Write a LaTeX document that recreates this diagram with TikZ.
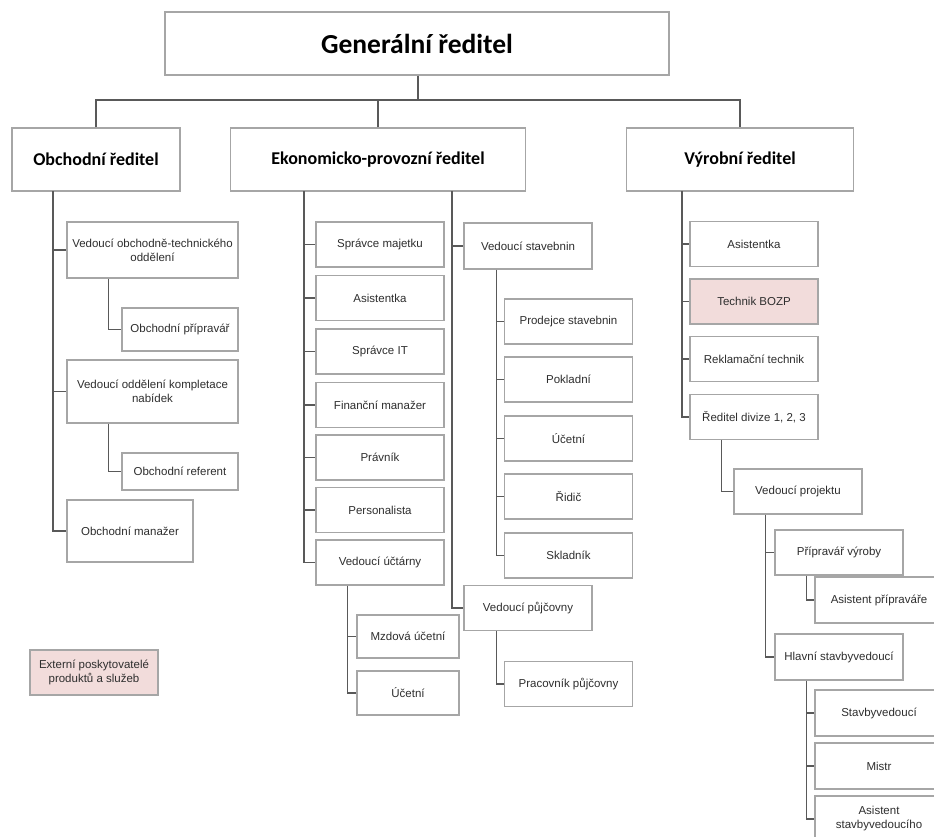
\documentclass[tikz,border=0pt]{standalone}
\usepackage{fontspec}
\setmainfont{Liberation Sans}
\newfontfamily\headfont{Carlito}
\definecolor{boxline}{HTML}{A6A6A6}
\definecolor{linkline}{HTML}{595959}
\definecolor{pinkfill}{HTML}{F2DCDB}
\begin{document}
\begin{tikzpicture}[x=1pt,y=-1pt,
  box/.style={draw=boxline,line width=1.4pt,fill=white,align=center,inner sep=2pt,text=black!82,
    minimum width=128pt,minimum height=45pt,font=\fontsize{11.5}{14}\selectfont},
  head/.style={box,minimum height=63pt,text=black,font=\headfont\bfseries\fontsize{18}{22}\selectfont},
  pinkbox/.style={box,fill=pinkfill},
  link/.style={draw=linkline,line width=1.3pt}]
\clip (0,0) rectangle (934,836);
\node[head,minimum width=504pt,font=\headfont\bfseries\fontsize{27.5}{32}\selectfont] (gen) at (417,43.5) {Generální ředitel};
\node[head,minimum width=168pt] (obch) at (96,159.5) {Obchodní ředitel};
\node[head,minimum width=295pt] (ekon) at (378,159.5) {Ekonomicko-provozní ředitel};
\node[head,minimum width=227pt] (vyr) at (740,159.5) {Výrobní ředitel};
\node[box,minimum width=171pt,minimum height=56pt] (vot) at (152.5,250) {Vedoucí obchodně-technického\\oddělení};
\node[box,minimum width=116pt,minimum height=43pt] (pripr) at (180,329.5) {Obchodní přípravář};
\node[box,minimum width=171pt,minimum height=63pt] (vok) at (152.5,391.5) {Vedoucí oddělení kompletace\\nabídek};
\node[box,minimum width=116pt,minimum height=37pt] (refer) at (180,471.5) {Obchodní referent};
\node[box,minimum width=126pt,minimum height=62pt] (man) at (130,531) {Obchodní manažer};
\node[pinkbox] (ext) at (94,672.5) {Externí poskytovatelé\\produktů a služeb};
\node[box] (majet) at (380,244.5) {Správce majetku};
\node[box] (asi) at (380,298) {Asistentka};
\node[box] (it) at (380,351.5) {Správce IT};
\node[box] (fin) at (380,405) {Finanční manažer};
\node[box] (prav) at (380,457.5) {Právník};
\node[box] (pers) at (380,510) {Personalista};
\node[box] (ucty) at (380,562.5) {Vedoucí účtárny};
\node[box,minimum width=102pt,minimum height=43pt] (mzd) at (408,636.5) {Mzdová účetní};
\node[box,minimum width=102pt,minimum height=44pt] (ucA) at (408,693) {Účetní};
\node[box,minimum height=46pt] (stav) at (528,246) {Vedoucí stavebnin};
\node[box] (prod) at (568.5,321.5) {Prodejce stavebnin};
\node[box] (pokl) at (568.5,379.5) {Pokladní};
\node[box] (ucB) at (568.5,438.5) {Účetní};
\node[box] (ridic) at (568.5,496.5) {Řidič};
\node[box] (sklad) at (568.5,555.5) {Skladník};
\node[box] (pujc) at (528,608) {Vedoucí půjčovny};
\node[box] (prac) at (568.5,684) {Pracovník půjčovny};
\node[box] (asiB) at (754,244) {Asistentka};
\node[pinkbox] (bozp) at (754,301.5) {Technik BOZP};
\node[box] (rekl) at (754,359) {Reklamační technik};
\node[box] (redd) at (754,417) {Ředitel divize 1, 2, 3};
\node[box] (vproj) at (798,491.5) {Vedoucí projektu};
\node[box] (pvyr) at (839,552.5) {Přípravář výroby};
\node[box,minimum height=46pt] (aspr) at (879,600) {Asistent přípraváře};
\node[box,minimum height=46pt] (hlav) at (839,657) {Hlavní stavbyvedoucí};
\node[box,minimum height=46pt] (stavb) at (879,713) {Stavbyvedoucí};
\node[box,minimum height=46pt] (mistr) at (879,766) {Mistr};
\node[box,minimum height=46pt] (asst) at (879,819) {Asistent\\stavbyvedoucího};
\coordinate (bus) at (418,100);
\draw[link] (gen.south -| bus) -- (bus);
\draw[link] (obch.north) |- (bus) -| (vyr.north);
\draw[link] (ekon.north) -- (ekon.north |- bus);
\coordinate (obchbus) at (53,191);
\draw[link] (obchbus) |- (man.west);
\foreach \n in {vot,vok} \draw[link] (\n.west -| obchbus) -- (\n.west);
\draw[link] (vot.south west) ++(42,0) |- (pripr.west);
\draw[link] (vok.south west) ++(42,0) |- (refer.west);
\coordinate (ekonbusA) at (304,191);
\coordinate (ekonbusB) at (452,191);
\draw[link] (ekonbusA) |- (ucty.west);
\foreach \n in {majet,asi,it,fin,prav,pers} \draw[link] (\n.west -| ekonbusA) -- (\n.west);
\draw[link] (ekonbusB) |- (pujc.west);
\draw[link] (stav.west -| ekonbusB) -- (stav.west);
\draw[link] (ucty.south west) ++(32,0) coordinate (uctybus) |- (ucA.west);
\draw[link] (mzd.west -| uctybus) -- (mzd.west);
\draw[link] (stav.south west) ++(33,0) coordinate (stavbus) |- (sklad.west);
\foreach \n in {prod,pokl,ucB,ridic} \draw[link] (\n.west -| stavbus) -- (\n.west);
\draw[link] (pujc.south west) ++(33,0) |- (prac.west);
\coordinate (vyrbus) at (682,191);
\draw[link] (vyrbus) |- (redd.west);
\foreach \n in {asiB,bozp,rekl} \draw[link] (\n.west -| vyrbus) -- (\n.west);
\draw[link] (redd.south west) ++(32,0) |- (vproj.west);
\draw[link] (vproj.south west) ++(32,0) coordinate (projbus) |- (hlav.west);
\draw[link] (pvyr.west -| projbus) -- (pvyr.west);
\draw[link] (pvyr.south west) ++(32,0) |- (aspr.west);
\draw[link] (hlav.south west) ++(32,0) coordinate (hlavbus) |- (asst.west);
\foreach \n in {stavb,mistr} \draw[link] (\n.west -| hlavbus) -- (\n.west);
\end{tikzpicture}
\end{document}
